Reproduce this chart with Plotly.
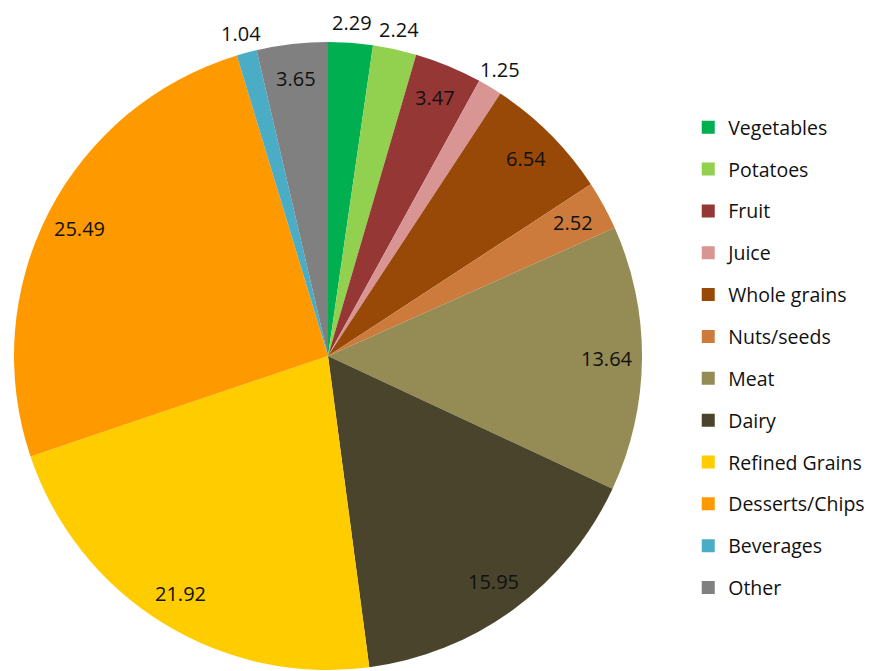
import math
import plotly.graph_objects as go

categories = ["Vegetables", "Potatoes", "Fruit", "Juice", "Whole grains", "Nuts/seeds",
              "Meat", "Dairy", "Refined Grains", "Desserts/Chips", "Beverages", "Other"]
values = [2.29, 2.24, 3.47, 1.25, 6.54, 2.52, 13.64, 15.95, 21.92, 25.49, 1.04, 3.65]
label_outside = [True, True, False, True, False, False, False, False, False, False, True, False]
colors = ["#00B050", "#92D050", "#953735", "#D99594", "#984807", "#CD7B3C",
          "#958B55", "#4A442C", "#FFCC00", "#FF9900", "#4BACC6", "#808080"]

W, H = 872, 671
OFF = 8  # page body margin
CX, CY, R = 328 - OFF, 356 - OFF, 314

fig = go.Figure()
fig.add_trace(go.Pie(
    labels=categories, values=values, sort=False, direction="clockwise", rotation=0,
    marker=dict(colors=colors, line=dict(width=0)),
    textinfo="none", hoverinfo="label+value", showlegend=False,
    domain=dict(x=[(CX - R) / W, (CX + R) / W], y=[1 - (CY + R) / H, 1 - (CY - R) / H]),
))

# legend entries (one group each for spacing)
for i, (c, col) in enumerate(zip(categories, colors)):
    fig.add_trace(go.Scatter(
        x=[None], y=[None], mode="markers", name=c, legendgroup=f"g{i}",
        marker=dict(symbol="square", size=13, color=col), showlegend=True,
    ))

total = sum(values)
cum = 0.0
annotations = []
for v, out in zip(values, label_outside):
    m = (cum + v / 2) / total
    cum += v
    theta = math.radians(90 - 360 * m)
    rr = R * (1.065 if out else 0.89)
    px = CX + rr * math.cos(theta)
    py = CY - rr * math.sin(theta)
    annotations.append(dict(
        x=px / W, y=1 - py / H, xref="paper", yref="paper", showarrow=False,
        text=f"{v:.2f}", xanchor="center", yanchor="middle",
        font=dict(family="Open Sans", size=20, color="#111111"),
        borderpad=0,
    ))

fig.update_layout(
    width=W, height=H, autosize=False,
    margin=dict(l=0, r=0, t=0, b=0),
    paper_bgcolor="white", plot_bgcolor="white",
    xaxis=dict(visible=False), yaxis=dict(visible=False),
    annotations=annotations,
    legend=dict(
        x=0.795 - 13 / W, y=1 - 100 / H, xanchor="left", yanchor="top",
        traceorder="grouped", tracegroupgap=13.5,
        font=dict(family="Open Sans", size=19.5, color="#111111"),
        itemwidth=30,
    ),
)

fig.write_html("out.html")
